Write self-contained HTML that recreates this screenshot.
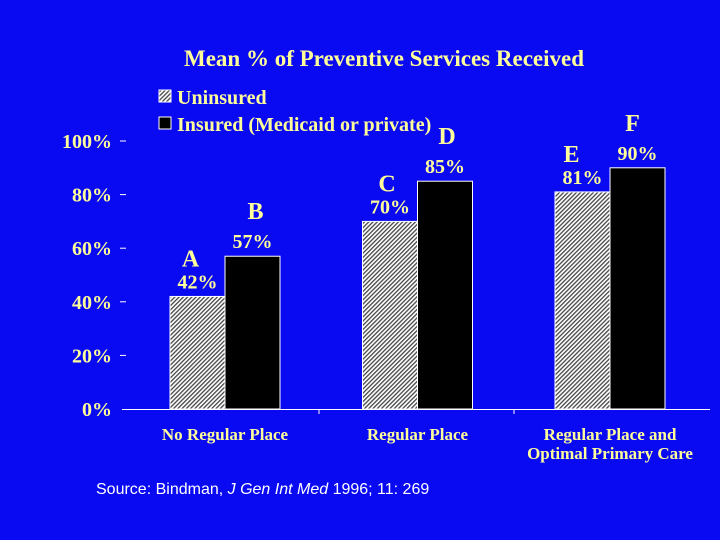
<!DOCTYPE html>
<html><head><meta charset="utf-8"><style>
body{margin:0;background:#0a0af2;}
svg{display:block}
.y{font:bold 20px "Liberation Serif",serif;fill:#ffff9a}
</style></head><body>
<svg width="720" height="540">
<defs><pattern id="hatch" width="3" height="3" patternUnits="userSpaceOnUse" patternTransform="rotate(45)">
<rect width="3" height="3" fill="#fff"/><rect width="1.3" height="3" fill="#444"/></pattern></defs>
<rect width="720" height="540" fill="#0a0af2"/>
<text x="384" y="66" text-anchor="middle" class="y" style="font-size:23px">Mean % of Preventive Services Received</text>
<g>
<rect x="159" y="90" width="12" height="12" fill="url(#hatch)" stroke="#fff"/>
<text x="177" y="104" class="y">Uninsured</text>
<rect x="159" y="117" width="12" height="12" fill="#000" stroke="#fff"/>
<text x="177" y="131" class="y">Insured (Medicaid or private)</text>
</g>
<line x1="122" y1="409.5" x2="710" y2="409.5" stroke="#fff"/>
<g id="plot"></g>
<text x="96" y="494" style="font:16px 'Liberation Sans',sans-serif;fill:#fff">Source: Bindman, <tspan font-style="italic">J Gen Int Med</tspan> 1996; 11: 269</text>
</svg>
<script>
const categories=[["No Regular Place"],["Regular Place"],["Regular Place and","Optimal Primary Care"]];
const uninsured=[42,70,81];
const insured=[57,85,90];
const letters=[["A","B"],["C","D"],["E","F"]];
const ticks=[0,20,40,60,80,100];
const letterDx=[[-7,3],[-3,2],[-11,-5]];
const ns="http://www.w3.org/2000/svg";
const g=document.getElementById('plot');
const y=v=>409-v*2.68;
const cx=i=>225+i*192.5;
function mk(t,a,txt){const e=document.createElementNS(ns,t);for(const k in a)e.setAttribute(k,a[k]);if(txt!=null)e.textContent=txt;g.appendChild(e);return e;}
ticks.forEach(t=>{
 const l=mk('text',{x:112,y:y(t)+7,'text-anchor':'end',class:'y'},t+'%');
 
 
 if(t>0){const m=mk('line',{x1:120,x2:126,y1:y(t),y2:y(t),stroke:'#fff'});
 
 }
});
[319,514].forEach(x=>{const m=mk('line',{x1:x,x2:x,y1:409,y2:414,stroke:'#fff'});
 
 });
categories.forEach((c,i)=>{
 const c0=cx(i);
 [[uninsured[i],c0-55,'url(#hatch)',0],[insured[i],c0,'#000',1]].forEach(([v,x,f,k])=>{
  const r=mk('rect',{x:x,y:y(v),width:55,height:409-y(v),fill:f,stroke:'#fff','stroke-width':1});
  
  
  const lab=mk('text',{x:x+27.5,y:y(v)-8,'text-anchor':'middle',class:'y'},v+'%');
  
  
  const le=mk('text',{x:x+27.5+letterDx[i][k],y:y(v)-(k?37:30),'text-anchor':'middle',class:'y',style:'font-size:24px'},letters[i][k]);
  
  
 });
 c.forEach((s,j)=>{const t=mk('text',{x:c0,y:440+j*19,'text-anchor':'middle',class:'y',style:'font-size:17px'},s);
  
  });
});
</script>
</body></html>
